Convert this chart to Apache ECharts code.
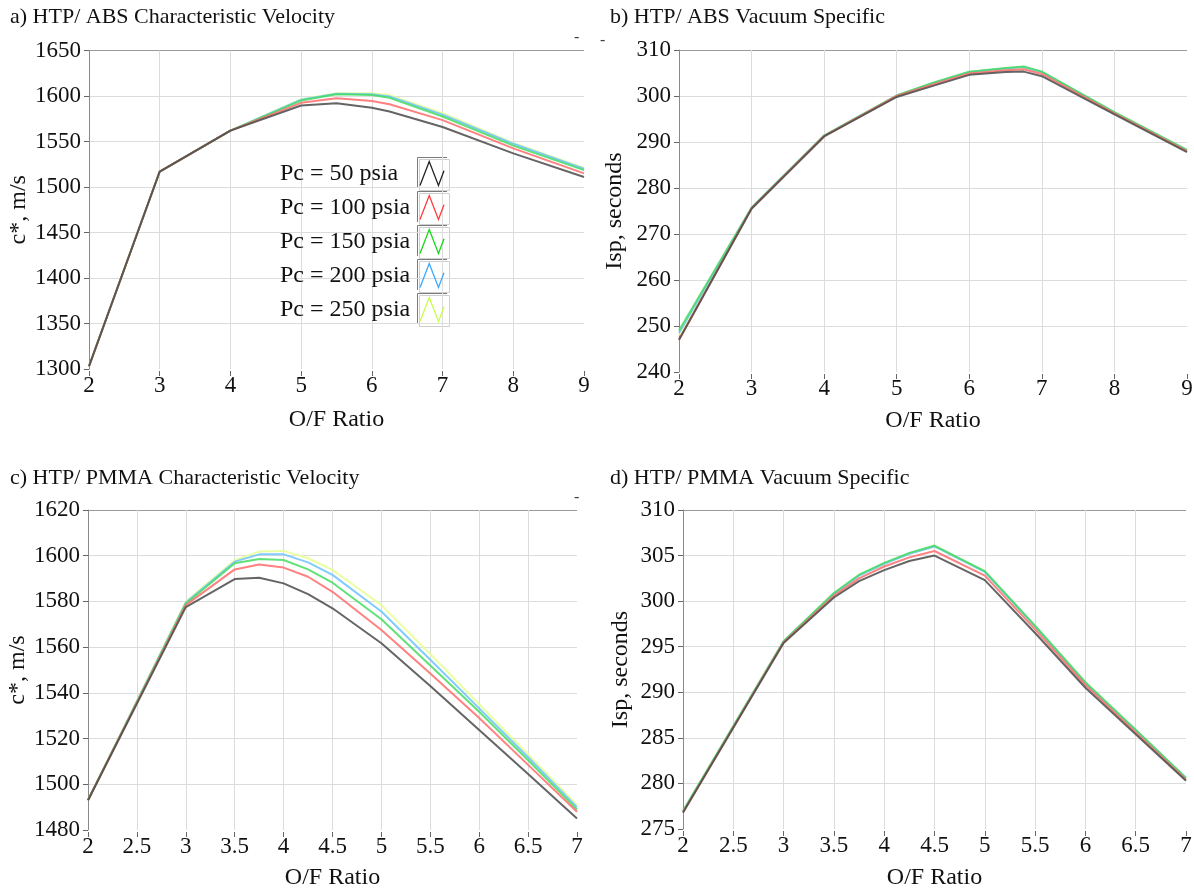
<!DOCTYPE html>
<html><head><meta charset="utf-8">
<script src="https://cdn.jsdelivr.net/npm/echarts@6/dist/echarts.min.js"></script>
<style>html,body{margin:0;padding:0;background:#fff}#c{width:1194px;height:888px}</style>
</head><body><div id="c"></div>
<script>
// ---------- DATA ----------
const seriesNames = ['Pc = 50 psia', 'Pc = 100 psia', 'Pc = 150 psia', 'Pc = 200 psia', 'Pc = 250 psia'];

// a) HTP/ABS c*
const absCstarOF    = [2, 3, 4, 5, 5.5, 6, 6.25, 7, 8, 9];
const absCstarPc50  = [1303, 1517, 1562, 1589.5, 1592, 1587, 1583, 1566, 1537, 1511];
const absCstarPc100 = [1303, 1517, 1562, 1592.5, 1597.5, 1594.5, 1591, 1573.5, 1542.5, 1515];
const absCstarPc150 = [1303, 1517, 1562, 1595, 1602, 1601, 1598, 1577.5, 1545.5, 1518.5];
const absCstarPc200 = [1303, 1517, 1562, 1596, 1602.5, 1602, 1599.5, 1579.5, 1547.5, 1520];
const absCstarPc250 = [1303, 1517, 1562, 1596.5, 1603, 1603, 1601, 1581, 1548.5, 1521];

// b) HTP/ABS Isp
const absIspOF    = [2, 3, 4, 5, 5.5, 6, 6.5, 6.75, 7, 8, 9];
const absIspPc50  = [247, 275.5, 291.2, 299.8, 302.2, 304.6, 305.2, 305.3, 304.3, 296, 287.8];
const absIspPc100 = [247, 275.6, 291.3, 300, 302.5, 304.9, 305.6, 305.8, 304.8, 296.2, 288];
const absIspPc150 = [249, 275.7, 291.4, 300.1, 302.9, 305.3, 306.1, 306.4, 305.3, 296.5, 288.3];
const absIspPc200 = [248.5, 275.7, 291.4, 300.1, 302.8, 305.2, 306, 306.3, 305.2, 296.4, 288.2];
const absIspPc250 = [248, 275.6, 291.4, 300.1, 302.7, 305.1, 305.9, 306.2, 305.1, 296.4, 288.2];

// c) HTP/PMMA c*
const pmmaCstarOF    = [2, 3, 3.5, 3.75, 4, 4.25, 4.5, 5, 5.5, 6, 6.5, 7];
const pmmaCstarPc50  = [1493, 1577.5, 1589.8, 1590.4, 1587.9, 1583.2, 1577, 1561.7, 1543, 1523.7, 1504.5, 1485];
const pmmaCstarPc100 = [1493, 1578.4, 1594, 1596.2, 1594.8, 1590.8, 1584.2, 1567.5, 1548.5, 1529, 1508.5, 1488];
const pmmaCstarPc150 = [1493, 1579, 1596.7, 1598.6, 1598.1, 1594, 1588.2, 1572.2, 1552, 1531.7, 1510.5, 1489];
const pmmaCstarPc200 = [1493, 1579.5, 1597.4, 1600.6, 1600.6, 1597.1, 1591.6, 1575.6, 1554.5, 1533.2, 1511.8, 1490];
const pmmaCstarPc250 = [1493, 1580, 1598, 1601.8, 1602.1, 1598.9, 1593.8, 1578.4, 1557, 1535, 1513, 1491];

// d) HTP/PMMA Isp
const pmmaIspOF    = [2, 3, 3.5, 3.75, 4, 4.25, 4.5, 5, 5.5, 6, 6.5, 7];
const pmmaIspPc50  = [276.8, 295.4, 300.4, 302.2, 303.4, 304.4, 305.0, 302.3, 296.5, 290.5, 285.4, 280.3];
const pmmaIspPc100 = [276.8, 295.5, 300.6, 302.5, 303.8, 304.8, 305.5, 302.8, 296.9, 290.8, 285.6, 280.4];
const pmmaIspPc150 = [277.0, 295.6, 300.9, 302.9, 304.2, 305.3, 306.1, 303.3, 297.3, 291.1, 285.9, 280.6];
const pmmaIspPc200 = [276.9, 295.6, 300.8, 302.8, 304.1, 305.2, 306.0, 303.2, 297.2, 291.0, 285.8, 280.6];
const pmmaIspPc250 = [276.9, 295.6, 300.8, 302.8, 304.1, 305.2, 306.0, 303.2, 297.2, 291.0, 285.8, 280.5];

const panelTitles = ['a) HTP/ ABS Characteristic Velocity', 'b) HTP/ ABS Vacuum Specific',
                     'c) HTP/ PMMA Characteristic Velocity', 'd) HTP/ PMMA Vacuum Specific'];
const xAxisName = 'O/F Ratio';
const yAxisNames = ['c*, m/s', 'Isp, seconds', 'c*, m/s', 'Isp, seconds'];

// ---------- STYLE / LAYOUT ----------
const FONT = '"Liberation Serif", "Times New Roman", serif';
const lineColors   = ['#4a4a4a', '#ff6b6b', '#45dc5f', '#6cc2ff', '#e6ff92'];
const legendColors = ['#222222', '#ff3b3b', '#16d916', '#3aa9ff', '#c8ff4a'];

const panels = [
  { of: absCstarOF, vals: [absCstarPc50, absCstarPc100, absCstarPc150, absCstarPc200, absCstarPc250],
    grid: { left: 89, top: 50.5, width: 495, height: 318.5 },
    x: [2, 9, 1], y: [1300, 1650, 50], yGap: 57, xGap: 37, titlePos: [10, 6] },
  { of: absIspOF, vals: [absIspPc50, absIspPc100, absIspPc150, absIspPc200, absIspPc250],
    grid: { left: 679, top: 50, width: 508, height: 322 },
    x: [2, 9, 1], y: [240, 310, 10], yGap: 52, xGap: 35, titlePos: [610, 6] },
  { of: pmmaCstarOF, vals: [pmmaCstarPc50, pmmaCstarPc100, pmmaCstarPc150, pmmaCstarPc200, pmmaCstarPc250],
    grid: { left: 88, top: 510, width: 489, height: 320 },
    x: [2, 7, 0.5], y: [1480, 1620, 20], yGap: 57, xGap: 34, titlePos: [10, 467] },
  { of: pmmaIspOF, vals: [pmmaIspPc50, pmmaIspPc100, pmmaIspPc150, pmmaIspPc200, pmmaIspPc250],
    grid: { left: 683, top: 510, width: 503, height: 319 },
    x: [2, 7, 0.5], y: [275, 310, 5], yGap: 50, xGap: 35, titlePos: [610, 467] }
];

const textBase = { fontFamily: FONT, color: '#111', fontWeight: 'normal' };

const grids = [], xAxes = [], yAxes = [], titles = [], series = [];
panels.forEach((p, i) => {
  grids.push(Object.assign({ containLabel: false, outerBoundsMode: 'none' }, p.grid));
  titles.push({ text: panelTitles[i], left: p.titlePos[0], top: p.titlePos[1], padding: 0,
    textStyle: Object.assign({ fontSize: 22 }, textBase) });
  const nx = Math.round((p.x[1] - p.x[0]) / p.x[2]) + 1;
  const xCols = []; for (let k = 0; k < nx; k++) xCols.push(k === nx - 1 ? 'rgba(0,0,0,0)' : '#dcdcdc');
  const ny = Math.round((p.y[1] - p.y[0]) / p.y[2]) + 1;
  const yCols = []; for (let k = 0; k < ny; k++) yCols.push(k === 0 ? 'rgba(0,0,0,0)' : (k === ny - 1 ? '#9a9a9a' : '#dcdcdc'));
  xAxes.push({
    type: 'value', gridIndex: i, min: p.x[0], max: p.x[1], interval: p.x[2],
    axisLine: { show: false }, offset: 2,
    axisTick: { show: true, length: 5, lineStyle: { color: '#666' } },
    axisLabel: Object.assign({ fontSize: 23, margin: 3, formatter: v => String(v) }, textBase),
    splitLine: { show: true, lineStyle: { color: xCols, width: 1 } },
    name: xAxisName, nameLocation: 'middle', nameGap: p.xGap,
    nameTextStyle: Object.assign({ fontSize: 24 }, textBase)
  });
  yAxes.push({
    type: 'value', gridIndex: i, min: p.y[0], max: p.y[1], interval: p.y[2],
    axisLine: { show: true, lineStyle: { color: '#8a8a8a', width: 1 } },
    axisTick: { show: true, length: 5, lineStyle: { color: '#666' } },
    axisLabel: Object.assign({ fontSize: 23, margin: 8, formatter: v => String(v) }, textBase),
    splitLine: { show: true, lineStyle: { color: yCols, width: 1 } },
    name: yAxisNames[i], nameLocation: 'middle', nameGap: p.yGap, nameRotate: 90,
    nameTextStyle: Object.assign({ fontSize: 24 }, textBase)
  });
  // draw highest Pc first, Pc = 50 on top
  for (let s = 4; s >= 0; s--) {
    series.push({
      type: 'line', name: seriesNames[s], xAxisIndex: i, yAxisIndex: i,
      data: p.of.map((x, k) => [x, p.vals[s][k]]),
      showSymbol: false, symbol: 'none', animation: false, z: 10 - s,
      lineStyle: { width: 2, color: lineColors[s], opacity: 0.85 },
      itemStyle: { color: lineColors[s] }
    });
  }
});

const legendTop = 159, legendStep = 34;
const graphics = [];
seriesNames.forEach((n, i) => {
  const y0 = legendTop + i * legendStep - 2;
  graphics.push({ type: 'rect', left: 417, top: y0, shape: { width: 30, height: 31 },
    style: { fill: 'none', stroke: '#cfcfcf', lineWidth: 1 }, silent: true });
  graphics.push({ type: 'polyline', shape: { points: [[417.5, y0 + 31], [417.5, y0 + 0.5], [447, y0 + 0.5]] },
    style: { fill: 'none', stroke: '#7a7a7a', lineWidth: 1 }, silent: true });
});
// stray marks present in the reference
graphics.push({ type: 'text', left: 574, top: 30, style: { text: '-', font: '16px ' + FONT, fill: '#444' } });
graphics.push({ type: 'text', left: 600, top: 33, style: { text: '-', font: '16px ' + FONT, fill: '#444' } });
graphics.push({ type: 'text', left: 574, top: 490, style: { text: '-', font: '16px ' + FONT, fill: '#444' } });

const option = {
  backgroundColor: '#ffffff',
  animation: false,
  title: titles,
  grid: grids,
  xAxis: xAxes,
  yAxis: yAxes,
  legend: {
    orient: 'vertical', align: 'right', left: 280, top: legendTop, padding: 0,
    itemWidth: 24, itemHeight: 26, itemGap: 5,
    icon: 'path://M0,26 L10,0 L20,26 L26,10',
    selectedMode: false,
    formatter: n => '{t|' + n + '}',
    textStyle: { fontFamily: FONT, fontSize: 24, color: '#111',
      rich: { t: { width: 135, align: 'left', fontFamily: FONT, fontSize: 24, color: '#111' } } },
    data: seriesNames.map((n, i) => ({ name: n,
      itemStyle: { color: 'none', borderColor: legendColors[i], borderWidth: 1.3 } }))
  },
  graphic: graphics,
  series: series
};

const chart = echarts.init(document.getElementById('c'), null, { renderer: 'canvas' });
chart.setOption(option);
</script></body></html>
